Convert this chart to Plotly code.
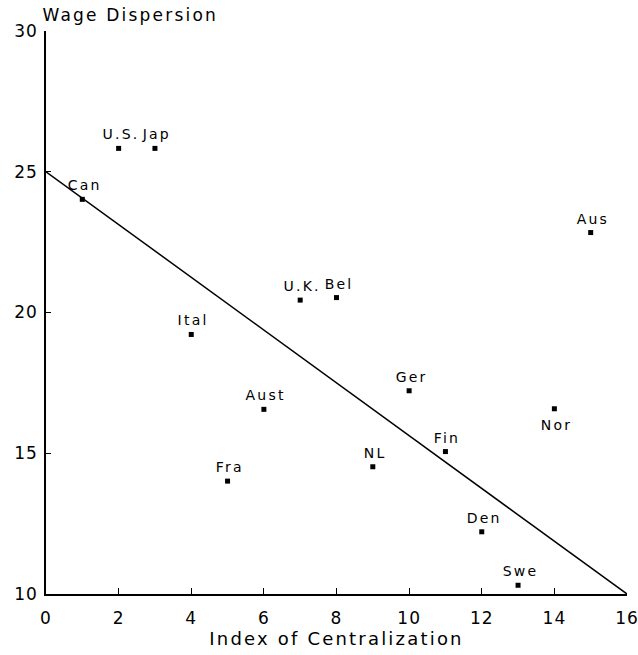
import plotly.graph_objects as go

# Data
countries = ["Can", "U.S.", "Jap", "Ital", "Fra", "Aust", "U.K.", "Bel", "NL", "Ger",
             "Fin", "Den", "Swe", "Nor", "Aus"]
centralization = [1, 2, 3, 4, 5, 6, 7, 8, 9, 10, 11, 12, 13, 14, 15]
dispersion = [24.02, 25.83, 25.83, 19.22, 14.01, 16.56, 20.44, 20.53, 14.52, 17.22,
              15.06, 12.21, 10.31, 16.58, 22.84]

fit_x = [0, 16]
fit_y = [25, 10]

x_ticks = [0, 2, 4, 6, 8, 10, 12, 14, 16]
y_ticks = [10, 15, 20, 25, 30]

FONT = "DejaVu Sans"
labels_below = {"Nor"}

fig = go.Figure()
fig.add_trace(go.Scatter(
    x=fit_x, y=fit_y, mode="lines",
    line=dict(color="black", width=1.5),
    hoverinfo="skip", showlegend=False, cliponaxis=False,
))
fig.add_trace(go.Scatter(
    x=centralization, y=dispersion, mode="markers",
    marker=dict(symbol="square", size=5, color="black"),
    showlegend=False, cliponaxis=False,
))

annotations = []
for name, xv, yv in zip(countries, centralization, dispersion):
    annotations.append(dict(
        text=name, x=xv, y=yv, xref="x", yref="y", showarrow=False,
        xanchor="center", yanchor="middle", xshift=2,
        yshift=-16 if name in labels_below else 14,
        font=dict(family=FONT, size=14, color="black"),
    ))
annotations.append(dict(
    text="Wage Dispersion", xref="paper", yref="paper", x=0, y=1,
    xanchor="left", yanchor="bottom", xshift=11, yshift=4, showarrow=False,
    font=dict(family=FONT, size=17, color="black"),
))

fig.update_layout(
    width=638, height=655,
    margin=dict(l=46, r=11, t=31, b=61, autoexpand=False),
    paper_bgcolor="white", plot_bgcolor="white",
    font=dict(family=FONT, color="black", size=16),
    xaxis=dict(
        range=[0, 16], tickvals=x_ticks, ticktext=[str(v) for v in x_ticks],
        showgrid=False, zeroline=False, showline=True, linecolor="black", linewidth=1.6,
        ticks="inside", ticklen=6, tickwidth=1.4, tickcolor="black",
        tickfont=dict(family=FONT, size=17), ticklabelstandoff=8,
        ticklabeloverflow="allow", automargin=False,
        title=dict(text="Index of Centralization", font=dict(family=FONT, size=18), standoff=4),
        fixedrange=True,
    ),
    yaxis=dict(
        range=[10, 30], tickvals=y_ticks, ticktext=[str(v) for v in y_ticks],
        showgrid=False, zeroline=False, showline=True, linecolor="black", linewidth=1.6,
        ticks="inside", ticklen=5, tickwidth=1.4, tickcolor="black",
        tickfont=dict(family=FONT, size=17), ticklabelstandoff=3,
        ticklabeloverflow="allow", automargin=False,
        fixedrange=True,
    ),
    annotations=annotations,
)

spacing_css = """
var s = document.createElement('style');
s.textContent = 'html, body {margin: 0; padding: 0; overflow: hidden;} ' +
                '.xtick text, .ytick text {letter-spacing: 1px;} ' +
                '.xtitle {letter-spacing: 2.2px;} ' +
                '.annotation-text {letter-spacing: 2.2px;}';
document.head.appendChild(s);
"""

fig.write_html("out.html", post_script=spacing_css, config={"displayModeBar": False})
